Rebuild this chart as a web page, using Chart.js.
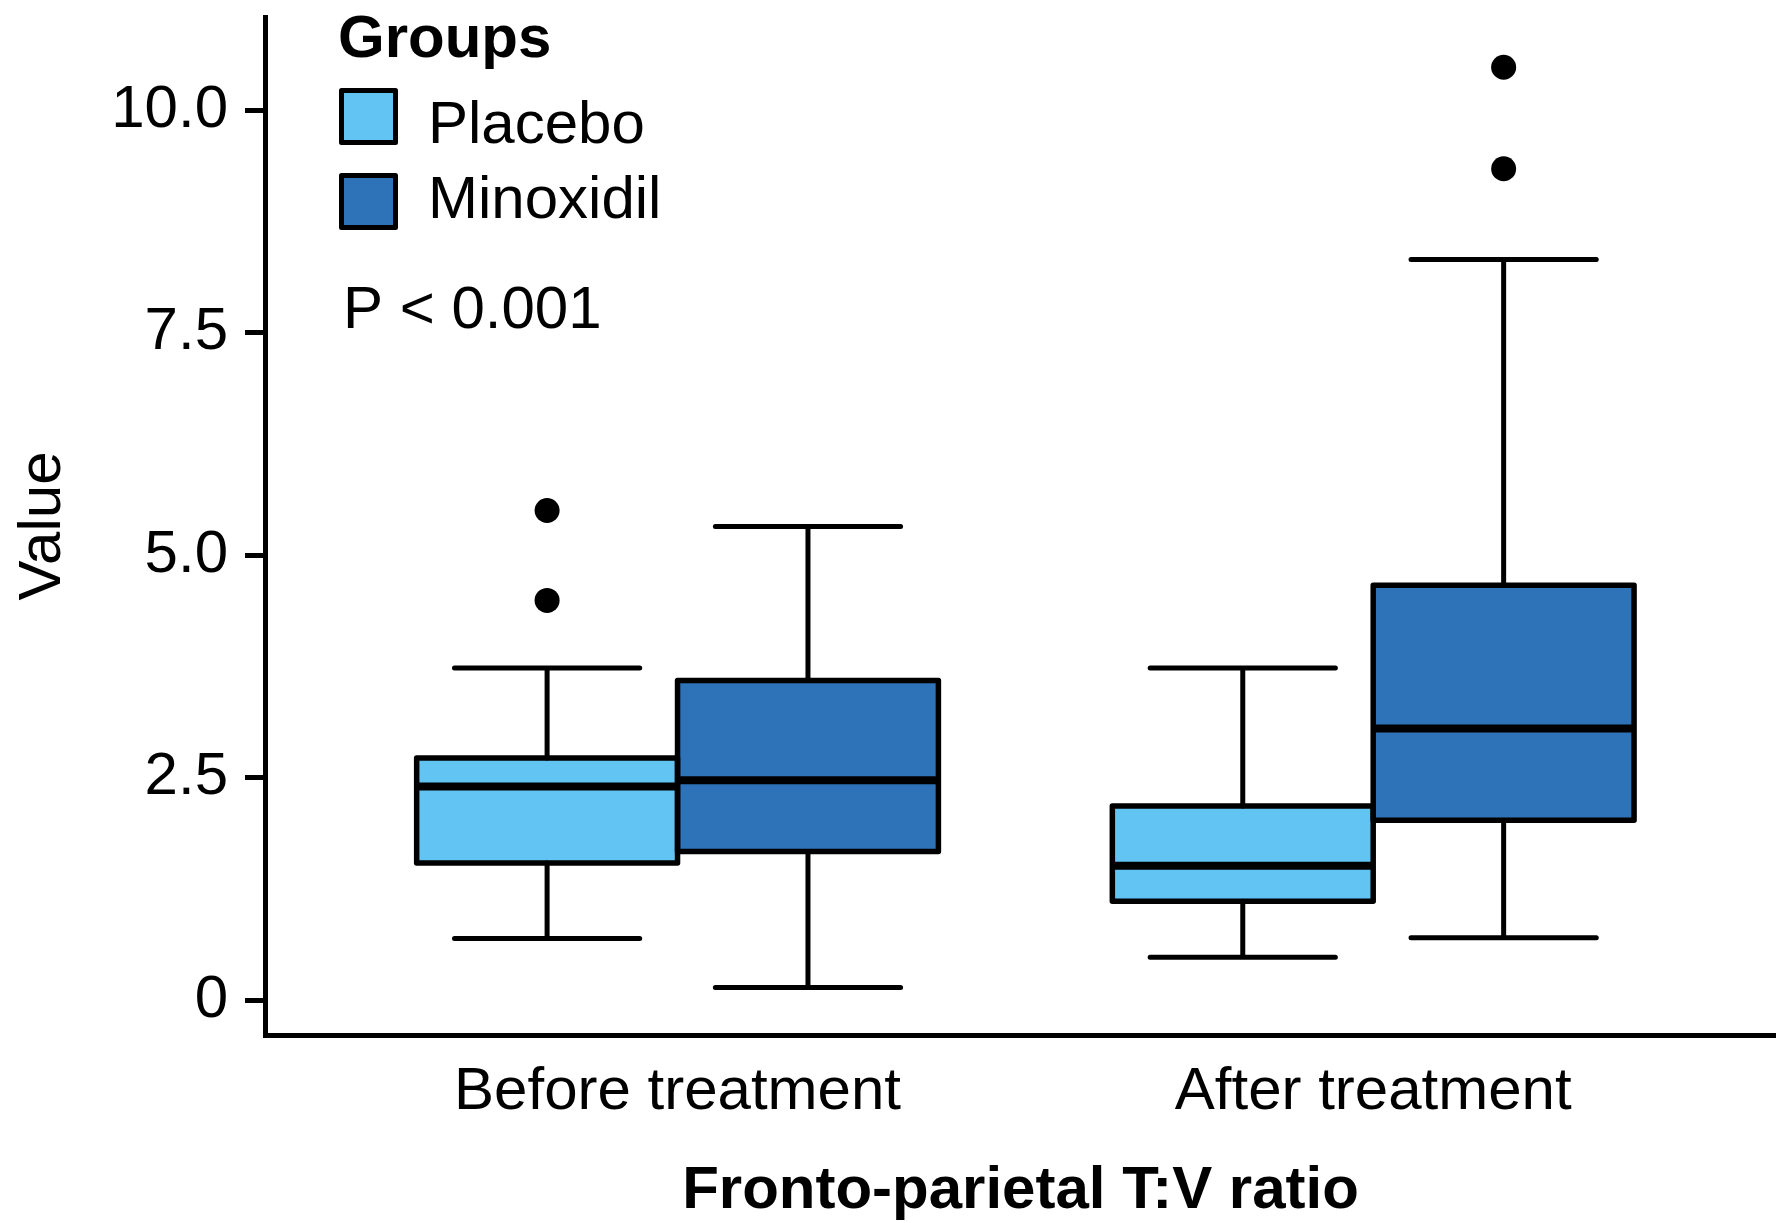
<!DOCTYPE html>
<html><head><meta charset="utf-8">
<script src="https://cdn.jsdelivr.net/npm/chart.js@4.4.1/dist/chart.umd.min.js"></script>
<style>html,body{margin:0;padding:0;background:#fff;} canvas{display:block;}</style>
</head><body>
<canvas id="c" width="1776" height="1223"></canvas>
<script>
// ---- data ----
const categories = ['Before treatment', 'After treatment'];
const groupNames = ['Placebo', 'Minoxidil'];
const groupColors = ['#61C4F2', '#2E72B8'];

const placeboLow      = [0.69, 0.48];
const placeboQ1       = [1.54, 1.11];
const placeboMedian   = [2.40, 1.51];
const placeboQ3       = [2.72, 2.18];
const placeboHigh     = [3.73, 3.73];
const placeboOutliers = [[4.49, 5.50], []];

const minoxLow        = [0.14, 0.70];
const minoxQ1         = [1.67, 2.02];
const minoxMedian     = [2.47, 3.05];
const minoxQ3         = [3.59, 4.66];
const minoxHigh       = [5.32, 8.32];
const minoxOutliers   = [[], [9.34, 10.48]];

const yTickValues = [0, 2.5, 5, 7.5, 10];
const yTickLabels = ['0', '2.5', '5.0', '7.5', '10.0'];
const yTitle = 'Value';
const xTitle = 'Fronto-parietal T:V ratio';
const legendTitle = 'Groups';
const pValueText = 'P < 0.001';

// ---- build datasets ----
function makeDataset(name, color, low, q1, med, q3, high, outl) {
  return {
    label: name,
    backgroundColor: color,
    borderWidth: 0,
    data: categories.map((c, i) => ({ x: i + 1, y: [q1[i], q3[i]] })),
    stats: { low, q1, med, q3, high, outl }
  };
}
const datasets = [
  makeDataset(groupNames[0], groupColors[0], placeboLow, placeboQ1, placeboMedian, placeboQ3, placeboHigh, placeboOutliers),
  makeDataset(groupNames[1], groupColors[1], minoxLow, minoxQ1, minoxMedian, minoxQ3, minoxHigh, minoxOutliers)
];

const FONT = '"Liberation Sans", Arial, Helvetica, sans-serif';

const boxDetails = {
  id: 'boxDetails',
  afterDatasetsDraw(chart) {
    const ctx = chart.ctx;
    const ys = chart.scales.y;
    ctx.save();
    ctx.strokeStyle = '#000';
    ctx.fillStyle = '#000';
    chart.data.datasets.forEach((ds, di) => {
      const meta = chart.getDatasetMeta(di);
      const s = ds.stats;
      meta.data.forEach((el, i) => {
        const p = el.getProps(['x', 'width'], true);
        const left = p.x - p.width / 2, right = p.x + p.width / 2;
        const yLow = ys.getPixelForValue(s.low[i]);
        const yQ1 = ys.getPixelForValue(s.q1[i]);
        const yMed = ys.getPixelForValue(s.med[i]);
        const yQ3 = ys.getPixelForValue(s.q3[i]);
        const yHigh = ys.getPixelForValue(s.high[i]);
        const capHalf = p.width * 0.355;
        // whiskers
        ctx.lineWidth = 5;
        ctx.lineCap = 'round';
        ctx.beginPath();
        ctx.moveTo(p.x, yQ3); ctx.lineTo(p.x, yHigh);
        ctx.moveTo(p.x, yQ1); ctx.lineTo(p.x, yLow);
        ctx.moveTo(p.x - capHalf, yHigh); ctx.lineTo(p.x + capHalf, yHigh);
        ctx.moveTo(p.x - capHalf, yLow); ctx.lineTo(p.x + capHalf, yLow);
        ctx.stroke();
        // box outline
        ctx.lineCap = 'butt';
        ctx.lineJoin = 'round';
        ctx.lineWidth = 5.5;
        ctx.strokeRect(left, yQ3, right - left, yQ1 - yQ3);
        // median
        ctx.lineWidth = 8;
        ctx.beginPath();
        ctx.moveTo(left, yMed); ctx.lineTo(right, yMed);
        ctx.stroke();
        // outliers
        (s.outl[i] || []).forEach(v => {
          ctx.beginPath();
          ctx.arc(p.x, ys.getPixelForValue(v), 12.5, 0, Math.PI * 2);
          ctx.fill();
        });
      });
    });
    ctx.restore();
  }
};

const legendAndNote = {
  id: 'legendAndNote',
  afterDraw(chart) {
    const ctx = chart.ctx;
    const L = chart.chartArea.left;
    ctx.save();
    ctx.fillStyle = '#000';
    ctx.textBaseline = 'alphabetic';
    ctx.textAlign = 'left';
    ctx.font = 'bold 60px ' + FONT;
    ctx.fillText(legendTitle, L + 73, 57);
    const boxTops = [90.5, 175.5];
    const baselines = [143, 218];
    chart.data.datasets.forEach((ds, i) => {
      ctx.fillStyle = ds.backgroundColor;
      ctx.fillRect(L + 76.5, boxTops[i], 54, 52);
      ctx.lineWidth = 5;
      ctx.strokeStyle = '#000';
      ctx.lineJoin = 'round';
      ctx.strokeRect(L + 76.5, boxTops[i], 54, 52);
      ctx.fillStyle = '#000';
      ctx.font = '60px ' + FONT;
      ctx.fillText(ds.label, L + 163, baselines[i]);
    });
    ctx.font = '60px ' + FONT;
    ctx.fillText(pValueText, L + 78, 328);
    ctx.restore();
  }
};

new Chart(document.getElementById('c'), {
  type: 'bar',
  data: { datasets },
  options: {
    responsive: false,
    animation: false,
    devicePixelRatio: 1,
    layout: { padding: { top: 17, left: 0, right: 0, bottom: 0 } },
    plugins: { legend: { display: false }, tooltip: { enabled: false } },
    datasets: { bar: { categoryPercentage: 0.75, barPercentage: 1.0, grouped: true } },
    scales: {
      x: {
        type: 'linear',
        offset: false,
        bounds: 'data',
        min: 0.407,
        max: 2.579,
        afterBuildTicks: (scale) => { scale.ticks = categories.map((c, i) => ({ value: i + 1 })); },
        afterFit: (scale) => { scale.height = 188; scale.paddingLeft = 0; scale.paddingRight = 0; },
        ticks: {
          callback: (v) => categories[Math.round(v) - 1] || '',
          font: { family: FONT, size: 60 },
          color: '#000',
          padding: 21,
          maxRotation: 0,
          autoSkip: false
        },
        grid: { display: false, drawTicks: false },
        border: { display: true, color: '#000', width: 5 },
        title: {
          display: true, text: xTitle, color: '#000',
          font: { family: FONT, size: 60, weight: 'bold', lineHeight: 1.0 },
          padding: { top: 0, bottom: 2 }
        }
      },
      y: {
        type: 'linear',
        offset: false,
        bounds: 'data',
        min: -0.393,
        max: 11.045,
        afterBuildTicks: (scale) => { scale.ticks = yTickValues.map(v => ({ value: v })); },
        afterFit: (scale) => { scale.width = 265; scale.paddingTop = 0; scale.paddingBottom = 0; },
        ticks: {
          callback: (v) => { const k = yTickValues.indexOf(v); return k >= 0 ? yTickLabels[k] : ''; },
          font: { family: FONT, size: 60 },
          color: '#000',
          padding: 17,
          autoSkip: false
        },
        grid: { display: true, drawOnChartArea: false, drawTicks: true, tickLength: 20, tickWidth: 5, tickColor: '#000', color: '#000', lineWidth: 5 },
        border: { display: true, color: '#000', width: 5 },
        title: {
          display: true, text: yTitle, color: '#000',
          font: { family: FONT, size: 60, lineHeight: 1.2 },
          padding: { top: 7, bottom: 0 }
        }
      }
    }
  },
  plugins: [boxDetails, legendAndNote]
});
</script>
</body></html>
